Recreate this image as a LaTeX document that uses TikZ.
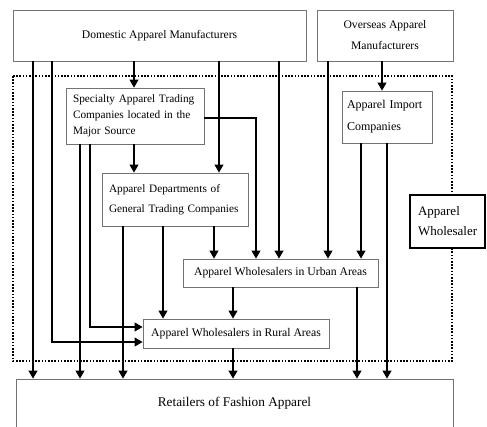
\documentclass[tikz,border=0pt]{standalone}
\usepackage{fontspec}
\setmainfont{Liberation Serif}
\usetikzlibrary{arrows.meta}
\hyphenpenalty=10000
\hbadness=10000
\hfuzz=10pt
\begin{document}
\begin{tikzpicture}[x=1pt,y=-1pt,
  box/.style={draw=black!55, line width=0.6pt, fill=white, inner sep=0pt},
  txt/.style 2 args={font=\fontsize{#1}{#2}\selectfont},
  lbox/.style n args={5}{box, minimum width=#1, minimum height=#2, text width=#1-2*#5, inner xsep=#5, align=left, txt={#3}{#4}},
  arr/.style={line width=2.4pt, -{Triangle[length=8pt,width=8.5pt]}}]
\useasboundingbox (0,0) rectangle (487,426);
\fill[white] (0,0) rectangle (487,426);
% wholesaler group
\draw[line width=1.8pt, dash pattern=on 1.6pt off 1.6pt] (13,76) rectangle (452,361);
% boxes
\node[box, minimum width=293pt, minimum height=51pt, txt={11.6}{14}] (dom) at (159.5,35.5) {Domestic Apparel Manufacturers};
\node[box, minimum width=136pt, minimum height=51pt, align=center, txt={11.6}{21}] (ovs) at (385,35.5) {Overseas Apparel\\Manufacturers};
\node[lbox={138pt}{56pt}{11.3}{16}{7pt}] (spec) at (135,116) {Specialty Apparel Trading\\Companies located in the\\Major Source};
\node[lbox={90pt}{52pt}{12}{22}{5pt}] (imp) at (387,117) {Apparel Import\\Companies};
\node[lbox={146pt}{53pt}{11.3}{20}{7pt}] (dep) at (175,199.5) {Apparel Departments of\\General Trading Companies};
\node[box, minimum width=195pt, minimum height=28pt, txt={11.7}{14}] (urb) at (280.5,273) {Apparel Wholesalers in Urban Areas};
\node[box, minimum width=186pt, minimum height=29pt, txt={11.7}{14}] (rur) at (236,333.5) {Apparel Wholesalers in Rural Areas};
\node[lbox={75pt}{53pt}{13}{20}{8pt}, draw=black, line width=1.8pt] (whl) at (447.5,221.5) {Apparel\\Wholesaler};
\node[box, minimum width=437pt, minimum height=49pt, txt={13.3}{16}] (ret) at (234.5,403.5) {Retailers of Fashion Apparel};
% x positions of connectors
\foreach \x in {33,52,80,90,123,134,163,214,219,233,256,279,328,357,361,382,387}
  \coordinate (x\x) at (\x,0);
% from domestic manufacturers
\draw[arr] (dom.south -| x33) -- (ret.north -| x33);
\draw[arr] (dom.south -| x52) |- ([yshift=-8.5pt]rur.west);
\draw[arr] (dom.south -| x134) -- (spec.north -| x134);
\draw[arr] (dom.south -| x219) -- (dep.north -| x219);
\draw[arr] (dom.south -| x279) -- (urb.north -| x279);
% from overseas manufacturers
\draw[arr] (ovs.south -| x328) -- (urb.north -| x328);
\draw[arr] (ovs.south -| x382) -- (imp.north -| x382);
% from specialty trading companies
\draw[arr] (spec.south -| x80) -- (ret.north -| x80);
\draw[arr] (spec.south -| x90) |- ([yshift=6.5pt]rur.west);
\draw[arr] (spec.south -| x134) -- (dep.north -| x134);
\draw[arr] ([yshift=-2pt]spec.east) -| (urb.north -| x256);
% from import companies
\draw[arr] (imp.south -| x361) -- (urb.north -| x361);
\draw[arr] (imp.south -| x387) -- (ret.north -| x387);
% from departments of general trading companies
\draw[arr] (dep.south -| x123) -- (ret.north -| x123);
\draw[arr] (dep.south -| x163) -- (rur.north -| x163);
\draw[arr] (dep.south -| x214) -- (urb.north -| x214);
% from urban wholesalers
\draw[arr] (urb.south -| x233) -- (rur.north -| x233);
\draw[arr] (urb.south -| x357) -- (ret.north -| x357);
% from rural wholesalers
\draw[arr] (rur.south -| x233) -- (ret.north -| x233);
\end{tikzpicture}
\end{document}
